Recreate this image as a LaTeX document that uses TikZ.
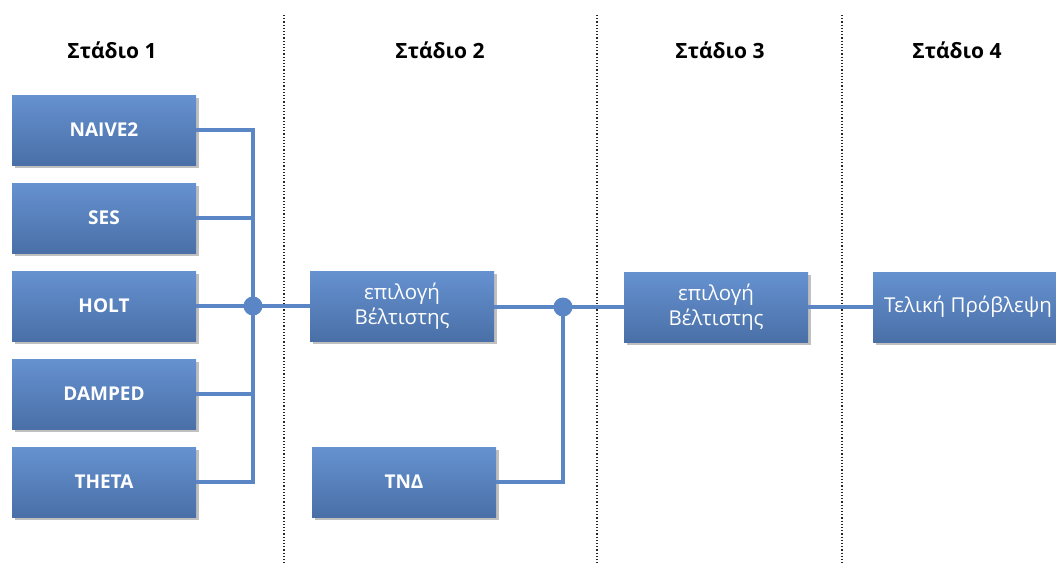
\documentclass[tikz,border=0pt]{standalone}
\usepackage{fontspec}
\setmainfont{Open Sans}
\usetikzlibrary{shadows}
\definecolor{boxtop}{HTML}{6592D0}
\definecolor{boxbot}{HTML}{4A6FA7}
\definecolor{wire}{HTML}{5A86C6}
\tikzset{
  blk/.style={rectangle, minimum width=184pt, minimum height=70pt, inner sep=0pt,
    top color=boxtop, bottom color=boxbot, draw=none, text=white, align=center,
    drop shadow={shadow xshift=3pt, shadow yshift=-3pt, opacity=0.35, fill=black!70}},
  capt/.style={font=\fontsize{19}{22}\selectfont\bfseries},
  txt/.style={font=\fontsize{20.5}{25}\selectfont},
  hdr/.style={font=\fontsize{21}{24}\selectfont\bfseries, text=black},
  wireline/.style={draw=wire, line width=3.4pt},
  sep/.style={draw=black!85, dotted, line width=1.2pt},
  dot/.style={circle, fill=wire, minimum size=19pt, inner sep=0pt}
}
\begin{document}
\begin{tikzpicture}[x=1pt,y=-1pt]
\useasboundingbox (0,0) rectangle (1056,565);
\clip (0,0) rectangle (1056,565);
\fill[white] (0,0) rectangle (1056,565);
% separators
\coordinate (d1t) at (284,15); \coordinate (d1b) at (284,565);
\coordinate (d2t) at (597,15); \coordinate (d2b) at (597,565);
\coordinate (d3t) at (842,15); \coordinate (d3b) at (842,565);
\draw[sep] (d1t) -- (d1b);
\draw[sep] (d2t) -- (d2b);
\draw[sep] (d3t) -- (d3b);
% headers
\node[hdr] (h1) at (112,50) {Στάδιο 1};
\node[hdr] (h2) at (440,50) {Στάδιο 2};
\node[hdr] (h3) at (720,50) {Στάδιο 3};
\node[hdr] (h4) at (957,50) {Στάδιο 4};
% stage 1
\node[blk, capt] (n1) at (104,130) {NAIVE2};
\node[blk, capt] (n2) at (104,218) {SES};
\node[blk, capt] (n3) at (104,306) {HOLT};
\node[blk, capt] (n4) at (104,394) {DAMPED};
\node[blk, capt] (n5) at (104,482) {THETA};
% stage 2
\node[blk, txt] (b2) at (402,306) {επιλογή\\Βέλτιστης};
\node[blk, capt] (tnd) at (404,482) {ΤΝΔ};
% stage 3
\node[blk, txt] (b3) at (716,307) {επιλογή\\Βέλτιστης};
% stage 4
\node[blk, txt, minimum width=190pt] (b4) at (968,307) {Τελική Πρόβλεψη};
% junctions
\coordinate (j1) at (253,306);
\coordinate (j2) at (563,307);
\draw[wireline] (n1.east) -| (j1);
\draw[wireline] (n2.east) -| (j1);
\draw[wireline] (n3.east) -- (j1);
\draw[wireline] (n4.east) -| (j1);
\draw[wireline] (n5.east) -| (j1);
\draw[wireline] (j1) -- (b2.west |- j1);
\draw[wireline] (b2.east |- j2) -- (j2);
\draw[wireline] (tnd.east) -| (j2);
\draw[wireline] (j2) -- (b3.west);
\draw[wireline] (b3.east) -- (b4.west);
\node[dot] (k1) at (j1) {};
\node[dot] (k2) at (j2) {};
\end{tikzpicture}
\end{document}
